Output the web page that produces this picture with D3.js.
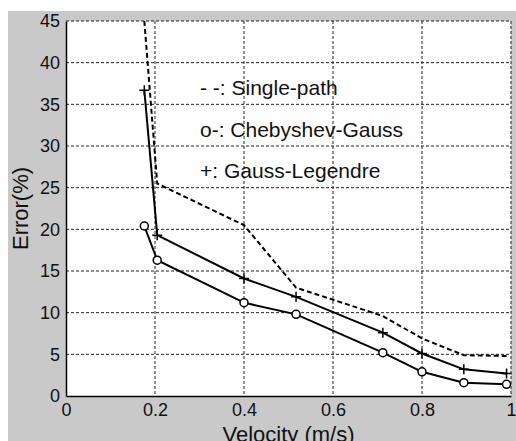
<!DOCTYPE html>
<html>
<head>
<meta charset="utf-8">
<script src="https://cdn.jsdelivr.net/npm/d3@7"></script>
<style>
  body { margin: 0; background: #fff; }
  text { font-family: "Liberation Sans", Arial, sans-serif; fill: #111; }
</style>
</head>
<body>
<div id="chart"></div>
<script>
// values
const velocity   = [0.176, 0.205, 0.4, 0.517, 0.712, 0.8, 0.894, 0.99];
const singlePath = [45, 25.5, 20.5, 13.0, 9.6, 6.9, 4.9, 4.8];
const chebyshev  = [20.4, 16.3, 11.2, 9.8, 5.2, 2.9, 1.6, 1.4];
const legendre   = [36.7, 19.3, 14.1, 11.9, 7.6, 5.1, 3.2, 2.7];

const xTicks = [0, 0.2, 0.4, 0.6, 0.8, 1];
const yTicks = [0, 5, 10, 15, 20, 25, 30, 35, 40, 45];
const legendLabels = ["- -: Single-path", "o-: Chebyshev-Gauss", "+: Gauss-Legendre"];

const W = 516, H = 441;
const margin = { top: 21, right: 5, bottom: 45, left: 66 };
const width = W - margin.left - margin.right;
const height = H - margin.top - margin.bottom;

const svg = d3.select("#chart").append("svg")
  .attr("width", W).attr("height", H);

// gray figure background
svg.append("rect").attr("x", 8).attr("y", 11)
  .attr("width", W - 8).attr("height", H - 11).attr("fill", "#c9c9c9");

const g = svg.append("g")
  .attr("transform", `translate(${margin.left},${margin.top})`);

g.append("rect").attr("width", width).attr("height", height).attr("fill", "#fff");

const x = d3.scaleLinear().domain([0, 1]).range([0, width]);
const y = d3.scaleLinear().domain([0, 45]).range([height, 0]);

// dotted grid
g.append("g").selectAll("line").data(xTicks.slice(1)).join("line")
  .attr("x1", d => x(d)).attr("x2", d => x(d))
  .attr("y1", 0).attr("y2", height)
  .attr("stroke", "#222").attr("stroke-width", 1).attr("stroke-dasharray", "3,2");
g.append("g").selectAll("line").data(yTicks.slice(1)).join("line")
  .attr("x1", 0).attr("x2", width)
  .attr("y1", d => y(d)).attr("y2", d => y(d))
  .attr("stroke", "#222").attr("stroke-width", 1).attr("stroke-dasharray", "3,2");

// axes
const xAxis = g.append("g").attr("transform", `translate(0,${height})`)
  .call(d3.axisBottom(x).tickValues(xTicks).tickSize(0).tickPadding(6)
    .tickFormat(d => d3.format("~g")(d)));
const yAxis = g.append("g")
  .call(d3.axisLeft(y).tickValues(yTicks).tickSize(0).tickPadding(6));
[xAxis, yAxis].forEach(a => {
  a.select(".domain").attr("stroke", "#000").attr("stroke-width", 1.5);
  a.selectAll("text").style("font-size", "18px")
    .style("font-family", "Liberation Sans, Arial, sans-serif").attr("fill", "#111");
});
xAxis.selectAll("text").attr("dy", "0.8em");

// axis labels
svg.append("text").attr("x", margin.left + width / 2).attr("y", 442)
  .attr("text-anchor", "middle").style("font-size", "22px").text("Velocity (m/s)");
svg.append("text").attr("transform", `translate(28,${margin.top + height / 2}) rotate(-90)`)
  .attr("text-anchor", "middle").style("font-size", "22px").text("Error(%)");

// series
const line = d3.line().x((d, i) => x(velocity[i])).y(d => y(d));

g.append("path").datum(singlePath).attr("d", line)
  .attr("fill", "none").attr("stroke", "#000").attr("stroke-width", 2)
  .attr("stroke-dasharray", "5,3");

g.append("path").datum(chebyshev).attr("d", line)
  .attr("fill", "none").attr("stroke", "#000").attr("stroke-width", 2);
g.append("g").selectAll("circle").data(chebyshev).join("circle")
  .attr("cx", (d, i) => x(velocity[i])).attr("cy", d => y(d)).attr("r", 4)
  .attr("fill", "#fff").attr("stroke", "#000").attr("stroke-width", 1.5);

g.append("path").datum(legendre).attr("d", line)
  .attr("fill", "none").attr("stroke", "#000").attr("stroke-width", 2);
g.append("g").selectAll("path").data(legendre).join("path")
  .attr("transform", (d, i) => `translate(${x(velocity[i])},${y(d)})`)
  .attr("d", "M-5,0H5M0,-5V5")
  .attr("stroke", "#000").attr("stroke-width", 1.5);

// legend text
svg.append("g").selectAll("text").data(legendLabels).join("text")
  .attr("x", 200).attr("y", (d, i) => [95, 137, 178][i])
  .style("font-size", "21px").text(d => d);
</script>
</body>
</html>
